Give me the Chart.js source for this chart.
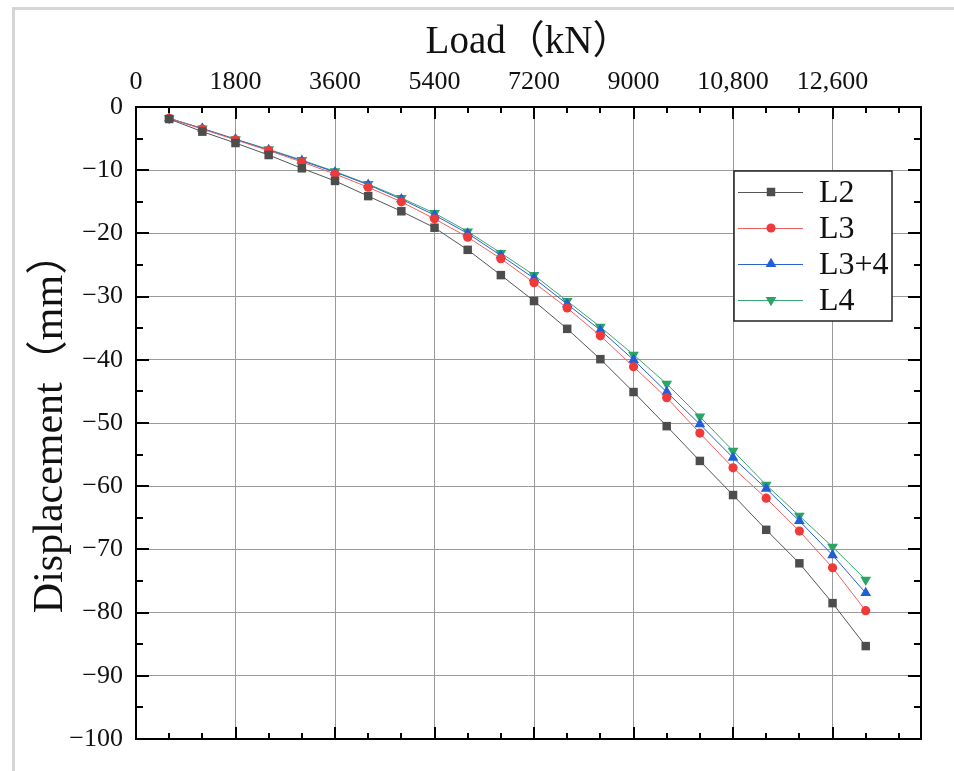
<!DOCTYPE html>
<html>
<head>
<meta charset="utf-8">
<script src="https://cdn.jsdelivr.net/npm/chart.js@4.4.1/dist/chart.umd.min.js"></script>
<style>
html,body{margin:0;padding:0;background:#fff;}
#wrap{width:954px;height:771px;position:relative;}
</style>
</head>
<body>
<div id="wrap"><canvas id="c" width="954" height="771"></canvas></div>
<script>
// Load values (kN)
const loads = [600,1200,1800,2400,3000,3600,4200,4800,5400,6000,6600,7200,7800,8400,9000,9600,10200,10800,11400,12000,12600,13200];
// Displacement (mm)
const L2   = [-1.9,-3.9,-5.7,-7.6,-9.7,-11.7,-14.1,-16.5,-19.1,-22.6,-26.6,-30.7,-35.1,-39.9,-45.1,-50.5,-56.0,-61.4,-66.9,-72.2,-78.5,-85.3];
const L3   = [-1.8,-3.5,-5.2,-6.9,-8.7,-10.6,-12.7,-15.0,-17.7,-20.6,-24.0,-27.8,-31.8,-36.2,-41.1,-46.0,-51.6,-57.1,-61.9,-67.1,-72.9,-79.7];
const L34  = [-1.8,-3.4,-5.1,-6.8,-8.5,-10.3,-12.3,-14.6,-17.1,-20.0,-23.5,-27.1,-31.2,-35.3,-40.0,-45.1,-50.2,-55.5,-60.4,-65.5,-70.9,-76.9];
const L4   = [-1.8,-3.4,-5.1,-6.7,-8.4,-10.2,-12.2,-14.4,-16.8,-19.7,-23.1,-26.6,-30.7,-34.8,-39.2,-43.8,-49.0,-54.4,-59.8,-64.7,-69.6,-74.8];
const seriesNames = ['L2','L3','L3+4','L4'];
const xTickLabels = ['0','1800','3600','5400','7200','9000','10,800','12,600'];

const SERIF = '"Liberation Serif", "Times New Roman", "Noto Sans CJK SC", serif';

function pts(arr){ return arr.map((v,i)=>({x:loads[i], y:v})); }

const styles = [
  {c:'#4d4d4d', l:'#555555', ps:'rect', r:6, rot:0},
  {c:'#f03a3a', l:'#f06060', ps:'circle', r:4.6, rot:0},
  {c:'#1f5fd8', l:'#2a62d0', ps:'triangle', r:6.2, rot:0},
  {c:'#2aa566', l:'#3aa870', ps:'triangle', r:6.2, rot:180}
];
const seriesData = [L2, L3, L34, L4];

const datasets = seriesData.map((d,i)=>({
  label: seriesNames[i],
  data: pts(d),
  borderColor: styles[i].l,
  backgroundColor: styles[i].c,
  borderWidth: 1,
  pointStyle: styles[i].ps,
  pointRadius: styles[i].r,
  pointRotation: styles[i].rot,
  pointBorderWidth: 0,
  pointBackgroundColor: styles[i].c,
  pointBorderColor: styles[i].c,
  tension: 0
}));

const framePlugin = {
  id:'frame',
  beforeDraw(chart){
    const ctx = chart.ctx;
    ctx.save();
    ctx.fillStyle = '#fff';
    ctx.fillRect(0,0,chart.width,chart.height);
    ctx.strokeStyle = '#d6d6d6';
    ctx.lineWidth = 3;
    ctx.beginPath();
    ctx.moveTo(13.5, chart.height);
    ctx.lineTo(13.5, 8.5);
    ctx.lineTo(chart.width, 8.5);
    ctx.stroke();
    ctx.restore();
  },
  afterDatasetsDraw(chart){
    const ctx = chart.ctx, a = chart.chartArea;
    const xs = chart.scales.x, ys = chart.scales.y;
    ctx.save();
    ctx.strokeStyle = '#000';
    ctx.lineWidth = 2;
    for(let v=600; v<xs.max; v+=600){
      const px = Math.round(xs.getPixelForValue(v));
      const len = (v % 1800 === 0) ? 12 : 6;
      ctx.beginPath();
      ctx.moveTo(px, a.top); ctx.lineTo(px, a.top+len);
      ctx.moveTo(px, a.bottom); ctx.lineTo(px, a.bottom-len);
      ctx.stroke();
    }
    for(let v=-5; v>ys.min; v-=5){
      const py = Math.round(ys.getPixelForValue(v));
      const len = (v % 10 === 0) ? 13 : 7;
      ctx.beginPath();
      ctx.moveTo(a.left, py); ctx.lineTo(a.left+len, py);
      ctx.moveTo(a.right, py); ctx.lineTo(a.right-len, py);
      ctx.stroke();
    }
    ctx.strokeRect(a.left, a.top, a.right-a.left, a.bottom-a.top);
    ctx.restore();
  },
  afterDraw(chart){
    const ctx = chart.ctx;
    const bx = 734, by = 171, bw = 158, bh = 150;
    ctx.save();
    ctx.fillStyle = '#fff';
    ctx.fillRect(bx,by,bw,bh);
    ctx.strokeStyle = '#222';
    ctx.lineWidth = 1.5;
    ctx.strokeRect(bx,by,bw,bh);
    chart.data.datasets.forEach((ds,i)=>{
      const cy = 192 + i*36;
      ctx.strokeStyle = ds.borderColor;
      ctx.lineWidth = 1;
      ctx.beginPath(); ctx.moveTo(738, cy+0.5); ctx.lineTo(803, cy+0.5); ctx.stroke();
      ctx.fillStyle = ds.pointBackgroundColor;
      Chart.helpers.drawPoint(ctx, {pointStyle: ds.pointStyle, rotation: ds.pointRotation, radius: ds.pointRadius, borderWidth:0}, 771, cy);
      ctx.fillStyle = '#111';
      ctx.font = '32px ' + SERIF;
      ctx.textBaseline = 'middle';
      ctx.textAlign = 'left';
      ctx.fillText(ds.label, 819, cy+2);
    });
    ctx.restore();
  }
};

new Chart(document.getElementById('c'), {
  type:'line',
  data:{datasets},
  options:{
    responsive:false,
    animation:false,
    devicePixelRatio:1,
    layout:{padding:{left:0, top:0, right:33, bottom:32}},
    plugins:{legend:{display:false}, tooltip:{enabled:false}},
    scales:{
      x:{
        type:'linear', position:'top', min:0, max:14200,
        afterBuildTicks(scale){ scale.ticks = xTickLabels.map((t,i)=>({value:i*1800})); },
        afterFit(scale){ scale.height = 107; },
        grid:{color:'#9a9a9a', lineWidth:1, drawTicks:false, drawOnChartArea:true},
        border:{display:false},
        ticks:{
          padding:9, color:'#111',
          font:{family:SERIF, size:26},
          maxRotation:0, autoSkip:false,
          callback(v,i){ return xTickLabels[i]; }
        },
        title:{display:true, text:'Load（kN）', color:'#111', font:{family:SERIF, size:39}, padding:{top:19,bottom:0}}
      },
      y:{
        type:'linear', min:-100, max:0,
        afterFit(scale){ scale.width = 136; },
        grid:{color:'#9a9a9a', lineWidth:1, drawTicks:false},
        border:{display:false},
        ticks:{
          stepSize:10, padding:13, color:'#111',
          font:{family:SERIF, size:26},
          callback(v){ return v < 0 ? '\u2212' + Math.abs(v) : String(v); }
        },
        title:{display:true, text:'Displacement（mm）', color:'#111', font:{family:SERIF, size:42}, padding:{top:26,bottom:0}}
      }
    }
  },
  plugins:[framePlugin]
});
</script>
</body>
</html>
